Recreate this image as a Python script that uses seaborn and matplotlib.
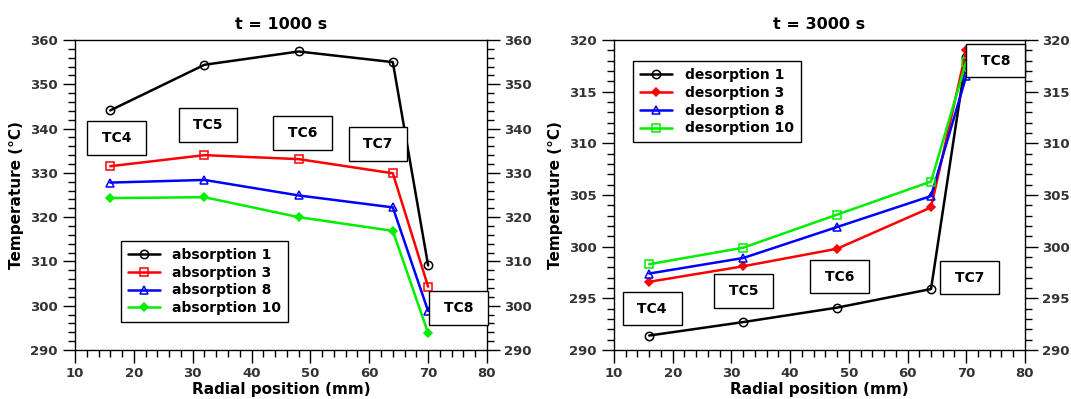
import matplotlib
matplotlib.use("Agg")
import matplotlib.pyplot as plt
from matplotlib.ticker import MultipleLocator
import seaborn as sns

# radial positions of the thermocouples (mm)
radial = [16, 32, 48, 64, 70]
tc_names = ["TC4", "TC5", "TC6", "TC7", "TC8"]

# t = 1000 s, absorption cycles
abs_1 = [344.1, 354.4, 357.4, 355.0, 309.1]
abs_3 = [331.5, 334.0, 333.1, 329.9, 304.3]
abs_8 = [327.8, 328.4, 324.9, 322.2, 298.8]
abs_10 = [324.3, 324.5, 320.0, 316.9, 293.8]

# t = 3000 s, desorption cycles
des_1 = [291.4, 292.7, 294.1, 295.9, 318.4]
des_3 = [296.6, 298.1, 299.8, 303.8, 319.0]
des_8 = [297.4, 298.9, 301.9, 304.9, 316.5]
des_10 = [298.3, 299.9, 303.1, 306.3, 317.9]

# label box positions (data coords)
tc_pos_left = [(17.1, 337.9), (32.6, 340.8), (48.7, 339.0), (61.5, 336.5), (75.2, 299.5)]
tc_pos_right = [(16.5, 294.0), (32.1, 295.7), (48.4, 297.1), (70.6, 297.0), (75.0, 318.0)]

sns.set_style("ticks")
plt.rcParams["font.family"] = ["DejaVu Sans"]
plt.rcParams["text.color"] = "black"
plt.rcParams["axes.labelcolor"] = "black"

fig = plt.figure(figsize=(10.71, 3.99), dpi=100)
ax1 = fig.add_axes([0.070, 0.1228, 0.3847, 0.777])
ax2 = fig.add_axes([0.5733, 0.1228, 0.3837, 0.777])

left_series = [
    ("absorption 1", abs_1, "black", "o", "none"),
    ("absorption 3", abs_3, "red", "s", "none"),
    ("absorption 8", abs_8, "blue", "^", "none"),
    ("absorption 10", abs_10, "#00ee00", "D", "#00ee00"),
]
right_series = [
    ("desorption 1", des_1, "black", "o", "none"),
    ("desorption 3", des_3, "red", "D", "red"),
    ("desorption 8", des_8, "blue", "^", "none"),
    ("desorption 10", des_10, "#00ee00", "s", "none"),
]


def draw(ax, series, ylim, ymaj, ymin, title, tc_pos, legend_anchor):
    for label, vals, col, mk, mfc in series:
        ms = 4 if mk == "D" else 6
        sns.lineplot(x=radial, y=vals, ax=ax, color=col, marker=mk, mfc=mfc,
                     mec=col, mew=1.1, ms=ms, lw=1.8, label=label)
    ax.set_xlim(10, 80)
    ax.set_ylim(*ylim)
    ax.xaxis.set_major_locator(MultipleLocator(10))
    ax.xaxis.set_minor_locator(MultipleLocator(2))
    ax.yaxis.set_major_locator(MultipleLocator(ymaj))
    ax.yaxis.set_minor_locator(MultipleLocator(ymin))
    ax.tick_params(which="both", direction="out", right=True, labelright=True,
                   top=False, labelsize=9.5, color="black", labelcolor="#333333")
    ax.tick_params(which="major", length=9, width=1)
    ax.tick_params(which="minor", length=5, width=1)
    for lab in ax.get_xticklabels() + ax.get_yticklabels():
        lab.set_fontweight("bold")
    for s in ax.spines.values():
        s.set_visible(True)
        s.set_linewidth(1)
        s.set_color("black")
    ax.set_title(title, fontsize=11.5, fontweight="bold", pad=8)
    ax.set_xlabel("Radial position (mm)", fontsize=11, fontweight="bold", labelpad=1)
    ax.set_ylabel("Temperature (°C)", fontsize=11, fontweight="bold", labelpad=4)
    for name, (tx, ty) in zip(tc_names, tc_pos):
        ax.text(tx, ty, " " + name + " ", ha="center", va="center", fontsize=10,
                fontweight="bold", zorder=5,
                bbox=dict(boxstyle="square,pad=0.7", fc="white", ec="black", lw=1))
    leg = ax.legend(loc="upper left", bbox_to_anchor=legend_anchor, frameon=True,
                    fancybox=False, edgecolor="black", framealpha=1,
                    prop={"weight": "bold", "size": 10}, handlelength=2.3,
                    labelspacing=0.28, borderpad=0.5, handletextpad=0.9)
    leg.get_frame().set_linewidth(1)


draw(ax1, left_series, (290, 360), 10, 2, "t = 1000 s", tc_pos_left, (0.095, 0.375))
draw(ax2, right_series, (290, 320), 5, 1, "t = 3000 s", tc_pos_right, (0.03, 0.955))

fig.savefig("out.png", dpi=100)
